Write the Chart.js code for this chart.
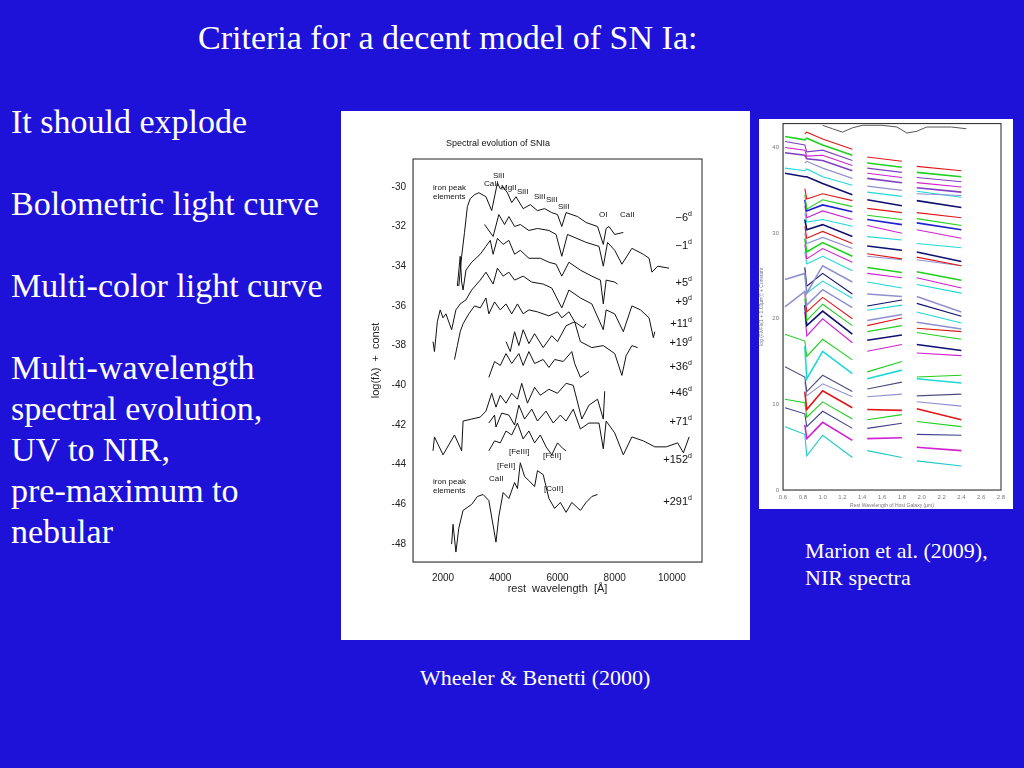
<!DOCTYPE html>
<html>
<head>
<meta charset="utf-8">
<script src="https://cdn.jsdelivr.net/npm/chart.js@4.4.1/dist/chart.umd.min.js"></script>
<style>
  body { margin:0; width:1024px; height:768px; background:#1f12d8; position:relative; overflow:hidden; font-family:"Liberation Serif", serif; color:#fff; }
  .t { position:absolute; white-space:nowrap; line-height:41px; }
  .big { font-size:34px; }
  .cap { font-size:22px; line-height:27px; }
  .panel { position:absolute; background:#fff; }
  .ann { position:absolute; font-family:"Liberation Sans", sans-serif; font-size:8px; color:#111; white-space:nowrap; line-height:9px; }
  .day { position:absolute; font-family:"Liberation Sans", sans-serif; font-size:11px; color:#111; }
  .day sup { font-size:7px; }
</style>
</head>
<body>
<div class="t big" style="left:198px; top:17px;">Criteria for a decent model of SN Ia:</div>
<div class="t big" style="left:11px; top:101px;">It should explode</div>
<div class="t big" style="left:11px; top:183px;">Bolometric light curve</div>
<div class="t big" style="left:11px; top:265px;">Multi-color light curve</div>
<div class="t big" style="left:11px; top:347px;">Multi-wavelength<br>spectral evolution,<br>UV to NIR,<br>pre-maximum to<br>nebular</div>
<div class="t cap" style="left:805px; top:537px;">Marion et al. (2009),<br>NIR spectra</div>
<div class="t cap" style="left:420px; top:664px;">Wheeler &amp; Benetti (2000)</div>

<div class="panel" style="left:341px; top:111px; width:409px; height:529px;">
  <canvas id="main" width="409" height="529"></canvas>
</div>
<div class="panel" style="left:759px; top:119px; width:254px; height:390px;">
  <canvas id="nir" width="254" height="390"></canvas>
</div>

<div id="labels"></div>

<script>
// ---- Wheeler & Benetti spectra: [wavelength (A), log f + const]
const dayLabels = ["\u22126", "\u22121", "+5", "+9", "+11", "+19", "+36", "+46", "+71", "+152", "+291"];
const dayLabelY = [218, 246, 283, 302, 324, 343, 367, 393, 422, 460, 502];

const specM6 = [[2550,-35],[2650,-33.5],[2750,-32.3],[2850,-31],[2950,-30.6],[3100,-30.4],[3250,-30.3],[3500,-30.5],[3700,-31.2],[3900,-29.8],[4000,-30.1],[4100,-30.0],[4250,-30.3],[4400,-30.8],[4550,-30.5],[4800,-31.1],[5050,-30.9],[5300,-31.2],[5550,-31.1],[5800,-31.3],[6000,-31.4],[6150,-32],[6300,-31.3],[6700,-31.5],[7000,-31.8],[7400,-32],[7600,-32.9],[7700,-32.1],[7800,-32],[8000,-32.4],[8300,-32.3]];
const specM1 = [[3450,-31.9],[3750,-32.5],[3950,-31.4],[4150,-31.9],[4300,-31.5],[4500,-32.0],[4700,-31.9],[5000,-32.2],[5300,-32.1],[5700,-32.2],[5950,-32.4],[6150,-33.5],[6350,-32.4],[7000,-32.8],[7450,-33.0],[7600,-34.0],[7750,-32.8],[8000,-33.2],[8250,-33.9],[8600,-33.1],[9000,-33.4],[9200,-33.6],[9300,-34.3],[9500,-34.0],[9900,-34.1]];
const specP5 = [[2500,-35],[2600,-33.5],[2650,-34.8],[2700,-35.2],[2800,-34.2],[3000,-33.8],[3300,-33.4],[3500,-33.0],[3650,-32.7],[3750,-33.4],[3900,-32.6],[4100,-32.9],[4300,-32.7],[4500,-33.4],[4700,-33.2],[5000,-33.6],[5400,-33.6],[5700,-33.8],[5950,-33.9],[6150,-34.5],[6400,-33.8],[6800,-34.2],[7200,-34.5],[7500,-34.7],[7600,-35.9],[7700,-34.7],[8000,-34.8],[8100,-34.9]];
const specP9 = [[1650,-37.8],[1700,-38.3],[1800,-36.8],[1900,-36.2],[2000,-36.6],[2100,-36.4],[2300,-37.2],[2450,-36.2],[2600,-35.9],[2800,-35.7],[3000,-35.2],[3300,-34.7],[3500,-34.3],[3750,-34.9],[3900,-34.1],[4100,-34.5],[4300,-34.3],[4500,-34.7],[4800,-34.5],[5100,-34.8],[5500,-34.9],[5800,-35.1],[6150,-36.1],[6400,-35.2],[6800,-35.6],[7200,-35.9],[7600,-37.2],[7700,-36.2],[8000,-36.4],[8300,-37.3],[8600,-36],[8900,-36.2],[9200,-36.6],[9350,-37.6],[9400,-37.3]];
const specP11 = [[2400,-38.7],[2500,-38],[2600,-37.3],[2700,-36.9],[2900,-36.4],[3100,-36],[3300,-36.1],[3500,-35.6],[3600,-36.4],[3800,-35.8],[4000,-36.2],[4200,-35.9],[4400,-36.4],[4600,-35.9],[4800,-36.4],[5000,-36.2],[5300,-36.3],[5700,-36.5],[6000,-36.3],[6150,-36.6],[6400,-36.3],[6600,-36.8],[6900,-37.1],[7000,-36.9]];
const specP19 = [[4200,-37.8],[4350,-38.3],[4500,-37.3],[4650,-38],[4800,-37.2],[5000,-37.9],[5200,-37.4],[5500,-38.1],[5800,-37.5],[6000,-37.8],[6300,-37],[6600,-36.8],[6800,-37.8],[7200,-38.1],[7600,-38],[8000,-38.4],[8250,-39.5],[8400,-38.5],[8600,-38],[8800,-38.1]];
const specP36 = [[3600,-39.6],[3800,-38.8],[4000,-39.0],[4200,-38.4],[4400,-38.9],[4650,-38.4],[4800,-39.0],[5000,-38.3],[5200,-38.9],[5500,-38.7],[5700,-39.1],[5900,-38.7],[6200,-38.8],[6500,-38.3],[6600,-38.9],[6800,-39.6],[7000,-39.4],[7100,-39.3]];
const specP46 = [[1650,-43.3],[1700,-42.6],[1800,-42.9],[2000,-43.5],[2200,-43],[2400,-42.5],[2650,-43.3],[2700,-41.8],[3000,-41.7],[3300,-41.6],[3500,-41.3],[3700,-40.4],[3850,-41.1],[4000,-40.5],[4200,-40.9],[4400,-40.4],[4600,-40.7],[4750,-39.9],[4950,-40.9],[5200,-40.1],[5400,-40.5],[5700,-40.2],[6000,-40.4],[6300,-39.9],[6550,-40.0],[6850,-41.7],[7100,-41.0],[7400,-40.7],[7600,-41.7],[7650,-40.3]];
const specP71 = [[3600,-41.9],[3800,-41.5],[3850,-42.1],[4050,-41.4],[4300,-41.5],[4500,-42.0],[4650,-41.0],[4850,-41.7],[5100,-41.2],[5300,-41.8],[5600,-41.3],[5850,-41.9],[6100,-41.5],[6300,-41.8],[6550,-41.2],[6800,-42.2],[7100,-41.9],[7450,-41.9],[7600,-43.2],[7700,-41.8],[8000,-42.4],[8300,-43.5],[8600,-42.6],[9000,-42.8],[9400,-43.1],[9800,-43.1],[10200,-42.9],[10400,-43.4],[10600,-42.6]];
const specP152 = [[3600,-43.3],[3800,-42.8],[4000,-42.9],[4200,-42.3],[4400,-42.5],[4600,-41.9],[4800,-42.7],[5000,-42.3],[5200,-42.9],[5400,-42.5],[5600,-43.1],[5800,-43.5],[6000,-42.9],[6200,-43.2],[6300,-43.3]];
const specP291 = [[2300,-48.0],[2350,-47.0],[2450,-48.4],[2550,-47.2],[2700,-46.3],[3000,-46.0],[3200,-45.6],[3400,-45.5],[3600,-45.8],[3850,-47.9],[3950,-46.6],[4100,-45.4],[4300,-45.7],[4500,-44.9],[4600,-45.2],[4700,-43.9],[4850,-44.6],[5000,-44.8],[5200,-45.1],[5300,-44.3],[5500,-44.5],[5700,-45.7],[5900,-46.2],[6100,-45.9],[6300,-46.4],[6500,-45.9],[6800,-46.3],[7000,-45.9],[7200,-45.6],[7400,-45.5]];
const mainSpectra = [specM6, specM1, specP5, specP9, specP11, specP19, specP36, specP46, specP71, specP152, specP291];
const mainXTicks = [2000, 4000, 6000, 8000, 10000];
const mainYTicks = [-30, -32, -34, -36, -38, -40, -42, -44, -46, -48];

// ---- Marion et al. NIR spectra
const nirWave = [0.62, 0.82, 0.84, 1.0, 1.3, 1.45, 1.8, 1.95, 2.4];
const nirColors = ["#e01818","#20d020","#8040c0","#d020d0","#8040c0","#9090d0","#20d8d8","#101070",
  "#e01818","#20d020","#2020d0","#d020d0","#20d8d8","#101070","#e01818","#9090d0","#20d020","#d020d0",
  "#20d8d8","#9090d0","#101070","#20d8d8","#9090d0","#e01818","#20d020","#101070","#d020d0",
  "#20d020","#20d8d8","#505080","#9090d0","#e01818","#20d020","#404090","#d020d0","#20c8c8"];
const nirRows = [
  [null,41.6,41.8,41,39.8,38.9,38.4,37.8,37.3],
  [41.3,40.9,41.1,40.3,39.1,38.2,37.7,37.1,36.6],
  [40.7,40.3,39.5,39.7,38.5,37.6,37.1,36.5,36.0],
  [40.0,39.7,39.0,39.1,37.9,37.0,36.5,35.9,35.4],
  [39.4,39.1,38.7,38.5,37.3,36.4,35.9,35.3,34.8],
  [null,38.2,38.4,37.6,36.4,35.5,35.0,34.6,34.4],
  [37.6,37.3,37.5,36.6,35.6,34.8,34.3,34.9,34.2],
  [37.0,36.6,36.6,35.8,34.5,33.9,33.2,33.8,33.0],
  [null,35.2,34.0,34.6,33.8,32.9,32.4,32.4,31.8],
  [null,34.5,32.8,33.9,33.1,32.1,31.6,31.7,30.9],
  [null,33.9,32.6,33.3,32.5,31.6,31.0,31.2,30.4],
  [null,33.2,31.8,32.6,31.6,30.9,30.0,30.4,29.4],
  [null,32.3,31.3,31.6,30.8,29.6,29.2,28.8,28.3],
  [null,31.6,30.4,31.0,29.6,28.5,28.0,27.8,26.7],
  [null,30.8,29.4,30.2,28.8,27.6,27.0,27.2,26.2],
  [null,30.0,28.8,29.5,28.2,27.3,26.9,26.9,26.2],
  [null,29.4,27.8,28.9,27.3,26.0,25.4,25.5,24.5],
  [null,28.7,27.0,28.2,26.6,25.3,24.8,24.8,23.6],
  [null,27.8,26.4,27.3,25.6,24.3,23.6,24.0,23.0],
  [24.6,25.3,23.0,26.2,24.3,22.9,22.6,22.6,20.8],
  [null,26.0,23.8,25.3,22.9,21.5,22.2,21.8,20.3],
  [null,25.2,23.0,24.4,22.4,21.0,21.6,20.8,19.5],
  [21.4,23.2,21.6,23.4,21.3,19.8,20.5,19.6,18.8],
  [null,23.2,20.8,22.5,20.0,19.2,20.1,18.9,18.5],
  [null,22.4,19.8,21.7,19.2,18.5,19.2,18.4,17.6],
  [null,21.6,19.2,20.9,18.2,17.5,18.1,17.0,16.3],
  [null,20.8,18.0,20.0,17.2,16.2,17.0,16.0,15.7],
  [18.2,17.4,15.6,17.6,15.2,13.8,15.0,13.2,13.4],
  [null,16.8,13.0,16.2,13.6,13.0,14.0,13.0,12.5],
  [14.4,13.2,11.5,13.4,11.5,11.8,12.6,11.0,11.2],
  [null,12.6,11.0,12.4,10.9,10.9,11.2,10.3,9.8],
  [null,11.5,9.4,11.6,9.6,9.4,9.3,9.5,8.2],
  [10.6,10.2,8.5,10.3,8.3,8.2,8.8,8.0,7.4],
  [9.6,8.9,7.4,9.2,7.2,7.2,7.8,6.5,6.4],
  [null,7.6,6.0,7.9,5.8,6.0,6.1,5.0,4.6],
  [7.4,6.5,4.0,6.4,3.8,4.6,3.8,3.4,2.8]
];
const tellWave = [1.0,1.1,1.2,1.3,1.4,1.6,1.75,1.85,1.95,2.05,2.3,2.45];
const tellFlux = [42.6,42.2,41.8,42.3,42.6,42.6,42.4,41.7,41.9,42.4,42.4,42.2];
const nirXTicks = [0.6,0.8,1.0,1.2,1.4,1.6,1.8,2.0,2.2,2.4,2.6,2.8];
const nirYTicks = [0, 10, 20, 30, 40];

const frame = {
  id: "frame",
  afterDraw(chart) {
    const a = chart.chartArea, c = chart.ctx;
    c.save(); c.strokeStyle = "#222"; c.lineWidth = 1;
    c.strokeRect(a.left, a.top, a.right - a.left, a.bottom - a.top);
    c.restore();
  }
};

function fixedTicks(list) {
  return s => { s.ticks = list.map(v => ({ value: v })); };
}

new Chart(document.getElementById("main"), {
  type: "line",
  data: {
    datasets: mainSpectra.map(sp => ({
      data: sp.map(p => ({ x: p[0], y: p[1] })),
      borderColor: "#111", borderWidth: 1, pointRadius: 0, tension: 0
    }))
  },
  options: {
    responsive: false, animation: false,
    layout: { padding: { top: 48, right: 48, left: 24, bottom: 40 } },
    plugins: { legend: { display: false }, tooltip: { enabled: false } },
    scales: {
      x: {
        type: "linear", min: 950, max: 11050,
        afterBuildTicks: fixedTicks(mainXTicks),
        afterFit: s => { s.height = 38; },
        grid: { display: false, tickLength: 6 },
        ticks: { color: "#222", padding: 4, font: { family: "Liberation Sans", size: 10 }, callback: v => String(v) },
        title: { display: true, text: "rest  wavelength  [\u00c5]", color: "#222", font: { family: "Liberation Sans", size: 11 }, padding: { top: 0 } }
      },
      y: {
        min: -48.9, max: -28.6,
        afterBuildTicks: fixedTicks(mainYTicks),
        afterFit: s => { s.width = 48; },
        grid: { display: false, tickLength: 4 },
        ticks: { color: "#222", font: { family: "Liberation Sans", size: 10 } },
        title: { display: true, text: "log(f\u03bb)  +  const", color: "#222", font: { family: "Liberation Sans", size: 11 } }
      }
    }
  },
  plugins: [frame]
});

const nirSets = nirRows.map((row, i) => {
  const pts = [];
  nirWave.forEach((w, j) => {
    pts.push({ x: w, y: row[j] });
    if (j === 4 || j === 6) pts.push({ x: w + 0.05, y: null });
  });
  return { data: pts, borderColor: nirColors[i], borderWidth: i % 3 === 1 ? 1.6 : 1.1, pointRadius: 0, spanGaps: false };
});
nirSets.push({ data: tellWave.map((w, j) => ({ x: w, y: tellFlux[j] })), borderColor: "#555", borderWidth: 1, pointRadius: 0 });

new Chart(document.getElementById("nir"), {
  type: "line",
  data: { datasets: nirSets },
  options: {
    responsive: false, animation: false,
    layout: { padding: { top: 3, right: 12, left: 0, bottom: 0 } },
    plugins: { legend: { display: false }, tooltip: { enabled: false } },
    scales: {
      x: {
        type: "linear", min: 0.6, max: 2.8,
        afterBuildTicks: fixedTicks(nirXTicks),
        afterFit: s => { s.height = 19; },
        grid: { display: false, tickLength: 3 },
        ticks: { color: "#777", padding: 1, font: { family: "Liberation Sans", size: 6 }, callback: v => v.toFixed(1) },
        title: { display: true, text: "Rest Wavelength of Host Galaxy (\u03bcm)", color: "#777", padding: 0, font: { family: "Liberation Sans", size: 5 } }
      },
      y: {
        min: 0, max: 42.8,
        afterBuildTicks: fixedTicks(nirYTicks),
        afterFit: s => { s.width = 24; },
        grid: { display: false, tickLength: 3 },
        ticks: { color: "#777", padding: 1, font: { family: "Liberation Sans", size: 6 } },
        title: { display: true, text: "log (F\u03bb/F\u03bb(1 + 1.03\u03bcm)) + Constant", color: "#777", padding: 0, font: { family: "Liberation Sans", size: 5 } }
      }
    }
  },
  plugins: [frame]
});

// annotation text on the main figure (positions in page pixels)
const anns = [
  ["Spectral evolution of SNIa", 446, 139, 9],
  ["iron peak<br>elements", 433, 183, 8], ["SiII", 493, 171, 8], ["CaII", 484, 179, 8], ["MgII", 501, 183, 8],
  ["SiII", 517, 187, 8], ["SiII", 534, 192, 8], ["SiII", 546, 195, 8], ["SiII", 558, 202, 8],
  ["OI", 599, 210, 8], ["CaII", 620, 210, 8],
  ["[FeIII]", 509, 447, 8], ["[FeII]", 543, 451, 8], ["[FeII]", 497, 461, 8], ["CaII", 489, 474, 8],
  ["[CoII]", 544, 484, 8], ["iron peak<br>elements", 433, 477, 8]
];
let html = "";
anns.forEach(a => { html += `<div class="ann" style="left:${a[1]}px;top:${a[2]}px;font-size:${a[3]}px">${a[0]}</div>`; });
dayLabels.forEach((d, i) => {
  html += `<div class="day" style="right:${1024 - 692}px;top:${dayLabelY[i] - 8}px">${d}<sup>d</sup></div>`;
});
document.getElementById("labels").innerHTML = html;
</script>
</body>
</html>
